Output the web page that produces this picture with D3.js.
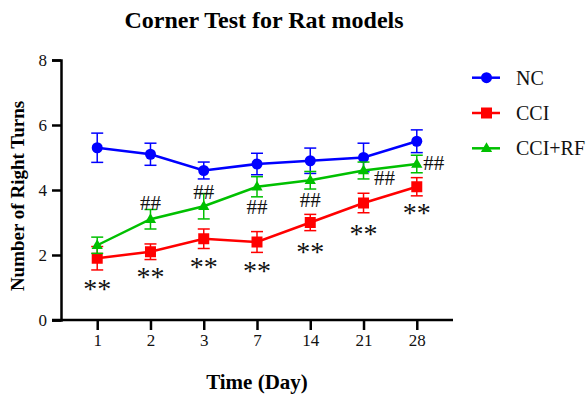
<!DOCTYPE html>
<html>
<head>
<meta charset="utf-8">
<script src="https://cdn.jsdelivr.net/npm/d3@7"></script>
<style>
  body { margin: 0; background: #fff; }
  svg { font-family: "Liberation Serif", "Times New Roman", serif; }
</style>
</head>
<body>
<div id="chart"></div>
<script>
// data
var days = ["1", "2", "3", "7", "14", "21", "28"];
var yTicks = [0, 2, 4, 6, 8];
var groups = ["NC", "CCI", "CCI+RF"];
var colors = ["#0000ff", "#ff0000", "#00c000"];
var shapes = ["circle", "square", "triangle"];

var ncMean = [5.3, 5.1, 4.6, 4.8, 4.9, 5.0, 5.5];
var ncErr = [0.45, 0.34, 0.26, 0.33, 0.39, 0.44, 0.35];
var cciMean = [1.9, 2.1, 2.5, 2.4, 3.0, 3.6, 4.1];
var cciErr = [0.36, 0.24, 0.3, 0.32, 0.25, 0.3, 0.28];
var rfMean = [2.3, 3.1, 3.5, 4.1, 4.3, 4.6, 4.8];
var rfErr = [0.25, 0.3, 0.39, 0.31, 0.27, 0.26, 0.27];

// significance marks: day, value level, nudge to the right
var starMarks = [["1", 1.08], ["2", 1.45], ["3", 1.75], ["7", 1.64], ["14", 2.22], ["21", 2.77], ["28", 3.42]];
var hashMarks = [["2", 3.61, 0], ["3", 3.95, 0], ["7", 3.49, 0], ["14", 3.69, 0], ["21", 4.36, 21], ["28", 4.84, 17]];

var series = [ncMean, cciMean, rfMean].map(function(m, i){
  var e = [ncErr, cciErr, rfErr][i];
  return { name: groups[i], color: colors[i], shape: shapes[i],
    values: days.map(function(d, j){ return { day: d, v: m[j], e: e[j] }; }) };
});

var width = 588, height = 396;
var svg = d3.select("#chart").append("svg")
  .attr("width", width).attr("height", height);

var xScale = d3.scalePoint().domain(days).range([61, 453]).padding(0.68);
var yScale = d3.scaleLinear().domain([0, 8]).range([320, 60]);

// axes
var xAxis = svg.append("g")
  .attr("transform", "translate(0,320)")
  .call(d3.axisBottom(xScale).tickSizeOuter(0).tickSize(10).tickPadding(4));
var yAxis = svg.append("g")
  .attr("transform", "translate(61,0)")
  .call(d3.axisLeft(yScale).tickValues(yTicks).tickSizeOuter(0).tickSize(9).tickPadding(5));

[xAxis, yAxis].forEach(function(a){
  a.select(".domain").attr("stroke", "#000").attr("stroke-width", 2.5);
  a.selectAll(".tick line").attr("stroke", "#000").attr("stroke-width", 2.5);
  a.selectAll(".tick text").attr("font-size", 17).attr("fill", "#111")
    .attr("font-family", "Liberation Serif, serif");
});
// extend x axis line left to meet the y tick
xAxis.select(".domain").attr("d", "M52,0H453");

function drawMarker(g, shape, color, x, y){
  if (shape == "circle") {
    g.append("circle").attr("cx", x).attr("cy", y).attr("r", 5.5).attr("fill", color);
  } else if (shape == "square") {
    g.append("rect").attr("x", x - 5.5).attr("y", y - 5.5)
      .attr("width", 11).attr("height", 11).attr("fill", color);
  } else {
    g.append("path").attr("d", d3.symbol().type(d3.symbolTriangle).size(55)())
      .attr("transform", "translate(" + x + "," + (y + 0.5) + ")").attr("fill", color);
  }
}

var line = d3.line()
  .x(function(d){ return xScale(d.day); })
  .y(function(d){ return yScale(d.v); });

series.forEach(function(s){
  var g = svg.append("g");
  g.append("path").datum(s.values)
    .attr("d", line).attr("fill", "none")
    .attr("stroke", s.color).attr("stroke-width", 2.5);

  s.values.forEach(function(d){
    var x = xScale(d.day);
    var y1 = yScale(d.v + d.e), y2 = yScale(d.v - d.e);
    g.append("line").attr("x1", x).attr("x2", x).attr("y1", y1).attr("y2", y2)
      .attr("stroke", s.color).attr("stroke-width", 1.5);
    [y1, y2].forEach(function(yy){
      g.append("line").attr("x1", x - 6).attr("x2", x + 6).attr("y1", yy).attr("y2", yy)
        .attr("stroke", s.color).attr("stroke-width", 1.5);
    });
    drawMarker(g, s.shape, s.color, x, yScale(d.v));
  });
});

// significance marks
svg.append("g").selectAll("text").data(starMarks).enter().append("text")
  .attr("x", function(d){ return xScale(d[0]); })
  .attr("y", function(d){ return yScale(d[1]) + 13; })
  .attr("text-anchor", "middle")
  .attr("font-size", 28)
  .attr("fill", "#111")
  .text("**");

svg.append("g").selectAll("text").data(hashMarks).enter().append("text")
  .attr("x", function(d){ return xScale(d[0]) + d[2]; })
  .attr("y", function(d){ return yScale(d[1]) + 7; })
  .attr("text-anchor", "middle")
  .attr("font-size", 21)
  .attr("fill", "#111")
  .text("##");

// legend
var legend = svg.append("g");
series.forEach(function(s, i){
  var ly = 77.7 + i * 35.3;
  legend.append("line").attr("x1", 472).attr("x2", 500).attr("y1", ly).attr("y2", ly)
    .attr("stroke", s.color).attr("stroke-width", 2.5);
  drawMarker(legend, s.shape, s.color, 486.5, ly);
  legend.append("text").attr("x", 516).attr("y", ly + 7)
    .attr("font-size", 20).attr("fill", "#111").text(s.name);
});

// titles
svg.append("text")
  .attr("x", 264).attr("y", 28)
  .attr("text-anchor", "middle")
  .attr("font-size", 24).attr("font-weight", "bold")
  .text("Corner Test for Rat models");

svg.append("text")
  .attr("transform", "translate(24,196) rotate(-90)")
  .attr("text-anchor", "middle")
  .attr("font-size", 19).attr("font-weight", "bold")
  .text("Number of Right Turns");

svg.append("text")
  .attr("x", 257).attr("y", 389)
  .attr("text-anchor", "middle")
  .attr("font-size", 21).attr("font-weight", "bold")
  .text("Time (Day)");
</script>
</body>
</html>
